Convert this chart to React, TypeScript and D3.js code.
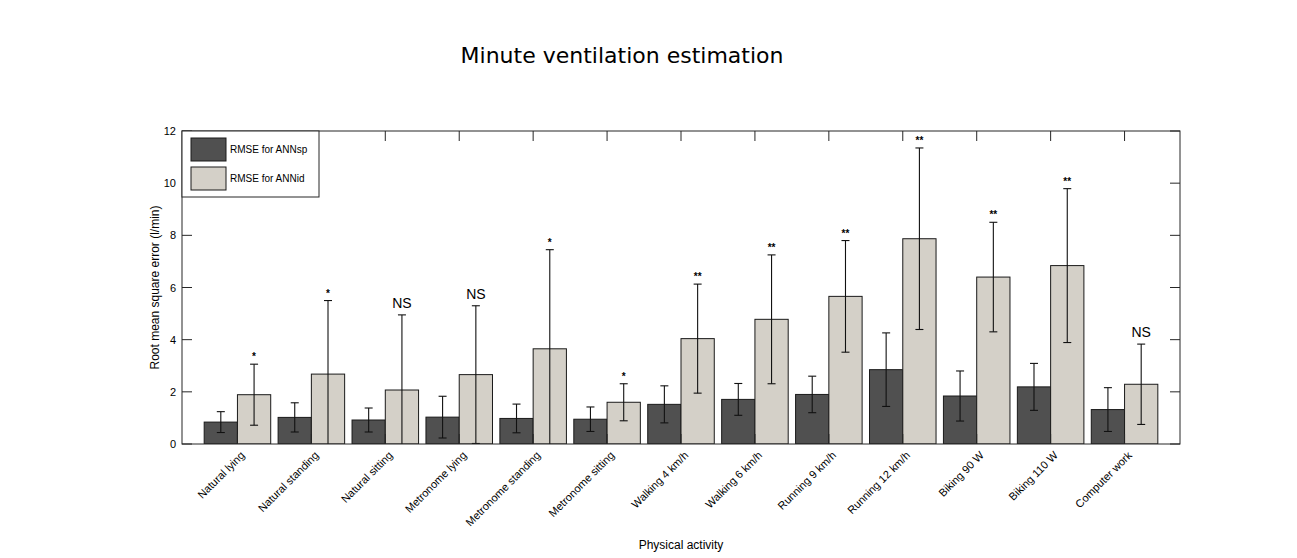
import React, { useEffect, useRef } from 'react';
import * as d3 from 'd3';

const activities = [
  'Natural lying', 'Natural standing', 'Natural sitting', 'Metronome lying',
  'Metronome standing', 'Metronome sitting', 'Walking 4 km/h', 'Walking 6 km/h',
  'Running 9 km/h', 'Running 12 km/h', 'Biking 90 W', 'Biking 110 W', 'Computer work',
];
const rmseSp = [0.84, 1.02, 0.92, 1.03, 0.98, 0.95, 1.52, 1.71, 1.9, 2.85, 1.84, 2.19, 1.32];
const sdSp = [0.4, 0.56, 0.46, 0.8, 0.55, 0.47, 0.71, 0.61, 0.7, 1.41, 0.96, 0.9, 0.84];
const rmseId = [1.89, 2.68, 2.07, 2.66, 3.65, 1.6, 4.04, 4.78, 5.66, 7.87, 6.4, 6.84, 2.29];
const sdId = [1.17, 2.82, 2.88, 2.64, 3.8, 0.71, 2.09, 2.47, 2.14, 3.48, 2.1, 2.95, 1.54];
const significance = ['*', '*', 'NS', 'NS', '*', '*', '**', '**', '**', '**', '**', '**', 'NS'];
const yTicks = [0, 2, 4, 6, 8, 10, 12];
const seriesNames = ['RMSE for ANNsp', 'RMSE for ANNid'];
const seriesColors = ['#505050', '#d4d0c8'];

const App: React.FC = () => {
  const svgRef = useRef<SVGSVGElement>(null);

  useEffect(() => {
    document.body.style.margin = '0';
    if (!svgRef.current) return;
    const svg = d3.select(svgRef.current);
    svg.selectAll('*').remove();

    const left = 182, right = 1180, top = 131, bottom = 444;
    const x = d3.scaleLinear().domain([0.25, activities.length + 0.75]).range([left, right]);
    const y = d3.scaleLinear().domain([0, 12]).range([bottom, top]);
    const bw = 0.45;
    const font = '"Liberation Sans", Arial, sans-serif';
    const axisColor = '#262626';

    svg.append('text')
      .attr('x', 622).attr('y', 63)
      .attr('text-anchor', 'middle')
      .style('font', `22px "DejaVu Sans", sans-serif`)
      .attr('fill', '#000')
      .text('Minute ventilation estimation');

    const clip = svg.append('defs').append('clipPath').attr('id', 'plotclip');
    clip.append('rect').attr('x', left).attr('y', top).attr('width', right - left).attr('height', bottom - top);

    const plot = svg.append('g').attr('clip-path', 'url(#plotclip)');

    const series = [
      { vals: rmseSp, sd: sdSp, off: -bw, color: seriesColors[0] },
      { vals: rmseId, sd: sdId, off: 0, color: seriesColors[1] },
    ];

    series.forEach((s) => {
      plot.append('g').selectAll('rect')
        .data(s.vals)
        .join('rect')
        .attr('x', (_, i) => x(i + 1 + s.off))
        .attr('width', x(bw) - x(0))
        .attr('y', (d) => y(d))
        .attr('height', (d) => y(0) - y(d))
        .attr('fill', s.color)
        .attr('stroke', '#1a1a1a')
        .attr('stroke-width', 1);
    });

    const cap = 4;
    series.forEach((s) => {
      const g = plot.append('g').attr('stroke', '#111').attr('stroke-width', 1.1);
      s.vals.forEach((v, i) => {
        const cx = x(i + 1 + s.off + bw / 2);
        const hi = y(v + s.sd[i]);
        const lo = y(v - s.sd[i]);
        g.append('line').attr('x1', cx).attr('x2', cx).attr('y1', hi).attr('y2', lo);
        g.append('line').attr('x1', cx - cap).attr('x2', cx + cap).attr('y1', hi).attr('y2', hi);
        g.append('line').attr('x1', cx - cap).attr('x2', cx + cap).attr('y1', lo).attr('y2', lo);
      });
    });

    // significance marks above the ANNid error bars
    svg.append('g').selectAll('text')
      .data(significance)
      .join('text')
      .attr('x', (_, i) => x(i + 1 + bw / 2))
      .attr('y', (d, i) => y(rmseId[i] + sdId[i]) - (d === 'NS' ? 7 : 4))
      .attr('text-anchor', 'middle')
      .style('font-family', font)
      .style('font-size', (d) => (d === 'NS' ? '14px' : '10px'))
      .style('font-weight', (d) => (d === 'NS' ? 'normal' : 'bold'))
      .attr('fill', '#000')
      .text((d) => d);

    // frame
    const axes = svg.append('g').attr('stroke', axisColor).attr('stroke-width', 1);
    axes.append('rect')
      .attr('x', left).attr('y', top).attr('width', right - left).attr('height', bottom - top)
      .attr('fill', 'none');

    const tl = 10;
    yTicks.forEach((t) => {
      axes.append('line').attr('x1', left).attr('x2', left + tl).attr('y1', y(t)).attr('y2', y(t));
      axes.append('line').attr('x1', right).attr('x2', right - tl).attr('y1', y(t)).attr('y2', y(t));
    });
    activities.forEach((_, i) => {
      const cx = x(i + 1);
      axes.append('line').attr('x1', cx).attr('x2', cx).attr('y1', top).attr('y2', top + tl);
      axes.append('line').attr('x1', cx).attr('x2', cx).attr('y1', bottom).attr('y2', bottom - tl);
    });

    svg.append('g').selectAll('text')
      .data(yTicks)
      .join('text')
      .attr('x', left - 6)
      .attr('y', (d) => y(d) + 4)
      .attr('text-anchor', 'end')
      .style('font-family', font)
      .style('font-size', '11px')
      .attr('fill', '#000')
      .text((d) => d);

    svg.append('g').selectAll('text')
      .data(activities)
      .join('text')
      .attr('transform', (_, i) => `translate(${x(i + 1) + 8},${bottom + 12}) rotate(-45)`)
      .attr('text-anchor', 'end')
      .style('font-family', font)
      .style('font-size', '11px')
      .attr('fill', '#000')
      .text((d) => d);

    svg.append('text')
      .attr('transform', `translate(159,${(top + bottom) / 2}) rotate(-90)`)
      .attr('text-anchor', 'middle')
      .style('font-family', font)
      .style('font-size', '12px')
      .attr('fill', '#000')
      .text('Root mean square error (l/min)');

    svg.append('text')
      .attr('x', (left + right) / 2).attr('y', 549)
      .attr('text-anchor', 'middle')
      .style('font-family', font)
      .style('font-size', '12px')
      .attr('fill', '#000')
      .text('Physical activity');

    // legend
    const lg = svg.append('g');
    lg.append('rect')
      .attr('x', left).attr('y', top).attr('width', 137).attr('height', 66)
      .attr('fill', '#fff').attr('stroke', axisColor);
    seriesNames.forEach((name, i) => {
      lg.append('rect')
        .attr('x', left + 9).attr('y', top + 7 + i * 29).attr('width', 35).attr('height', 23)
        .attr('fill', seriesColors[i]).attr('stroke', '#1a1a1a');
      lg.append('text')
        .attr('x', left + 48).attr('y', top + 22 + i * 29)
        .style('font-family', font)
        .style('font-size', '10px')
        .attr('fill', '#000')
        .text(name);
    });
  }, []);

  return <svg ref={svgRef} width={1297} height={558} style={{ display: 'block', background: '#fff' }} />;
};

export default App;
